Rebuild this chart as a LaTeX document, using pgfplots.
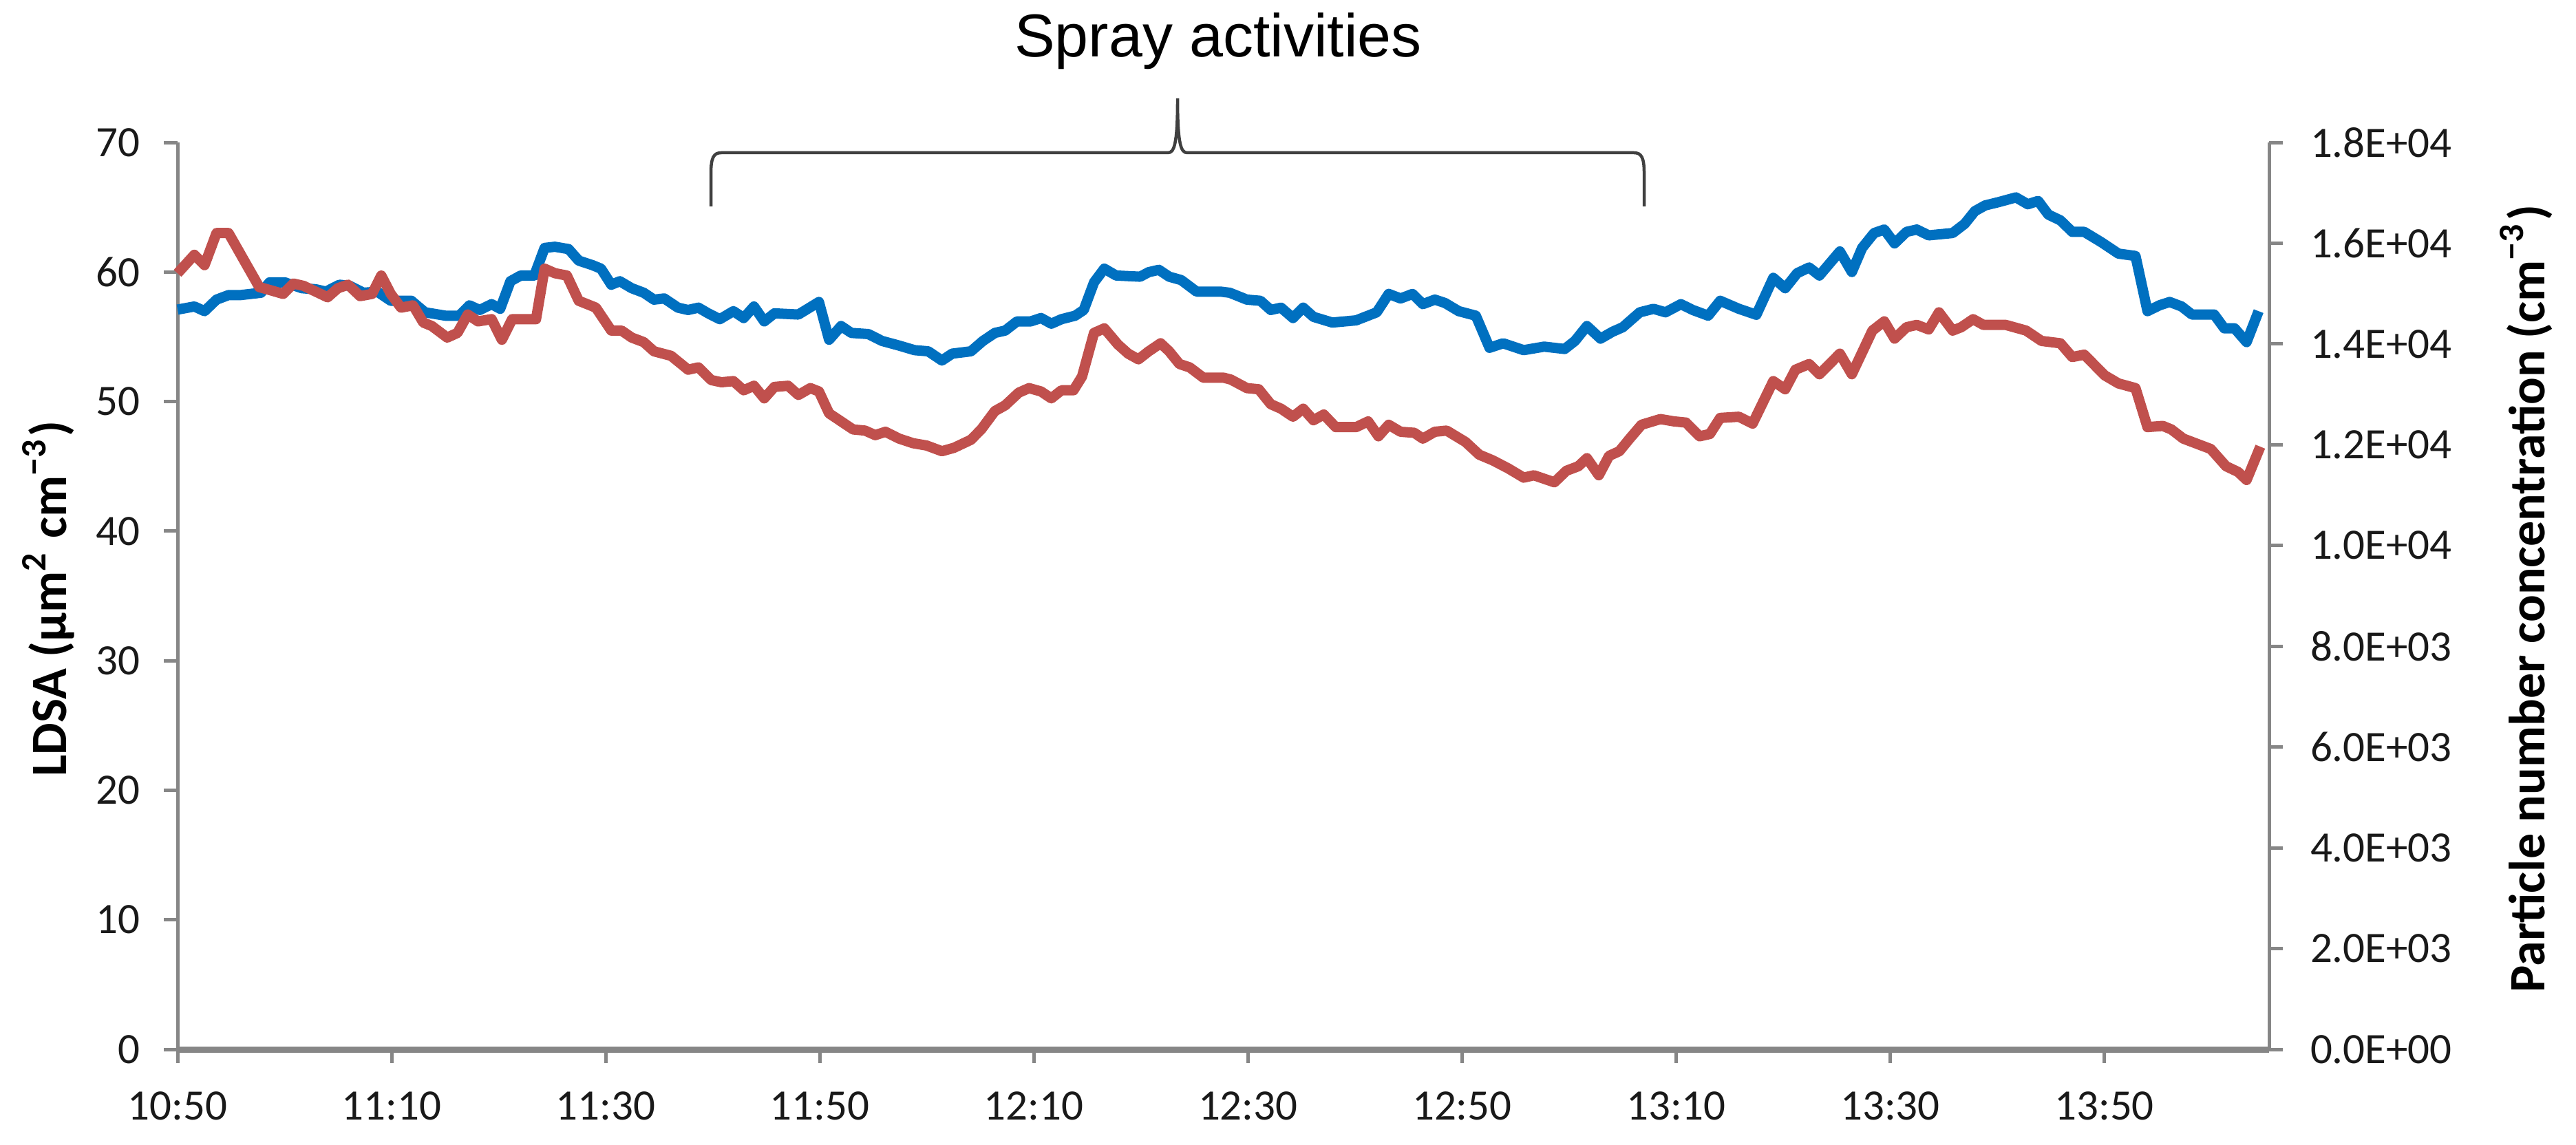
\documentclass[border=0pt]{standalone}
\usepackage{pgfplots}
\pgfplotsset{compat=1.18}
\usepackage{pgfplotstable}
\usepackage{fontspec}
\setmainfont{Carlito}
\newfontfamily\arialfont{Liberation Sans}
\definecolor{lblue}{HTML}{0070C0}
\definecolor{lred}{HTML}{C0504D}
\definecolor{axgray}{HTML}{868686}

\pgfplotstableread{
t v
0 57.1
1.57 57.34
2.52 56.98
3.64 57.87
4.76 58.22
5.88 58.22
7.79 58.40
8.59 59.20
10.03 59.20
11.62 58.75
12.90 58.67
13.86 58.49
15.13 59.02
16.09 58.93
17.37 58.40
18.65 58.49
19.92 57.78
21.84 57.78
23.12 56.89
25.03 56.63
26.31 56.63
27.27 57.43
28.23 57.07
29.34 57.52
30.14 57.16
31.10 59.29
32.06 59.73
33.33 59.73
34.29 61.86
35.25 61.95
36.53 61.77
37.48 60.88
38.76 60.53
39.56 60.26
40.52 59.02
41.32 59.29
42.43 58.75
43.55 58.40
44.51 57.87
45.47 57.96
46.75 57.25
47.70 57.07
48.66 57.25
49.60 56.80
50.66 56.36
51.93 56.98
52.89 56.45
53.85 57.34
54.81 56.19
55.76 56.81
58.00 56.72
59.92 57.69
60.87 54.77
61.99 55.83
62.95 55.30
64.54 55.21
65.82 54.68
67.42 54.32
68.85 53.97
70.13 53.88
71.41 53.17
72.37 53.70
74.12 53.88
75.24 54.68
76.36 55.30
77.32 55.48
78.43 56.19
79.71 56.19
80.67 56.45
81.63 56.01
82.58 56.36
83.86 56.63
84.66 57.07
85.62 59.20
86.58 60.26
87.69 59.73
89.93 59.64
90.73 59.99
91.68 60.17
92.64 59.64
93.76 59.38
95.20 58.49
97.43 58.49
98.30 58.40
99.90 57.87
101.17 57.78
102.13 57.07
103.09 57.25
104.21 56.45
105.16 57.25
106.12 56.54
107.88 56.10
110.11 56.27
112.03 56.89
113.15 58.31
114.26 57.96
115.38 58.31
116.34 57.52
117.46 57.87
118.41 57.61
119.69 56.98
121.29 56.63
122.57 54.15
123.84 54.50
125.76 53.97
127.67 54.24
129.59 54.06
130.55 54.68
131.67 55.83
132.94 54.86
134.06 55.39
135.02 55.74
136.61 56.89
137.89 57.16
139.01 56.89
140.45 57.52
141.56 57.07
143.00 56.63
144.12 57.78
145.87 57.16
147.50 56.70
149.08 59.55
150.19 58.75
151.31 59.91
152.43 60.35
153.39 59.73
155.30 61.59
156.42 60.00
157.38 61.86
158.50 63.01
159.45 63.28
160.41 62.21
161.53 63.10
162.49 63.28
163.60 62.83
165.84 63.01
166.96 63.72
167.91 64.70
168.87 65.14
170.15 65.40
171.75 65.76
172.86 65.23
173.82 65.49
174.78 64.43
175.90 63.99
177.01 63.10
178.13 63.10
179.73 62.30
181.33 61.42
182.92 61.24
184.04 56.98
185.16 57.43
186.11 57.69
187.23 57.34
188.19 56.72
190.27 56.72
191.22 55.65
192.18 55.65
193.30 54.59
194.42 56.98
}\bluedata

\pgfplotstableread{
t v
0 59.9
1.57 61.33
2.52 60.53
3.64 63.01
4.76 63.01
7.63 58.84
8.75 58.58
9.87 58.31
10.82 59.11
11.78 58.93
12.90 58.49
14.02 58.05
14.98 58.75
15.93 59.02
17.05 58.14
18.17 58.31
19.03 59.73
19.92 58.31
20.88 57.25
22.00 57.43
22.96 56.10
23.76 55.83
25.19 54.94
26.15 55.30
27.11 56.72
28.07 56.19
29.34 56.36
30.30 54.77
31.26 56.36
33.49 56.36
34.29 60.26
35.25 59.91
36.37 59.73
37.48 57.78
39.08 57.25
40.52 55.48
41.48 55.48
42.43 54.94
43.55 54.59
44.51 53.88
46.11 53.53
47.70 52.46
48.66 52.64
49.86 51.66
50.82 51.49
51.93 51.58
52.89 50.87
53.85 51.22
54.81 50.25
55.76 51.13
57.04 51.22
58.00 50.51
59.12 51.04
59.92 50.78
60.87 49.09
61.99 48.47
63.11 47.85
64.23 47.76
65.18 47.41
66.14 47.67
67.42 47.14
68.70 46.79
69.97 46.61
71.41 46.17
72.53 46.43
74.12 47.05
75.08 47.85
76.36 49.27
77.32 49.71
78.59 50.69
79.55 51.04
80.67 50.78
81.63 50.25
82.58 50.87
83.70 50.87
84.50 51.93
85.62 55.30
86.58 55.65
87.85 54.41
88.81 53.70
89.77 53.26
90.73 53.88
91.84 54.50
92.64 53.88
93.60 52.90
94.56 52.64
95.84 51.84
97.75 51.84
98.40 51.70
99.90 51.04
101.01 50.95
102.13 49.80
103.09 49.45
104.21 48.83
105.16 49.45
106.12 48.56
107.08 49.00
108.20 48.03
110.11 48.03
111.23 48.47
112.19 47.32
113.15 48.21
114.26 47.67
115.54 47.59
116.34 47.14
117.46 47.67
118.57 47.76
120.33 46.88
121.61 45.90
122.88 45.46
124.32 44.84
125.76 44.13
126.72 44.31
128.63 43.77
129.75 44.66
130.87 45.01
131.67 45.63
132.78 44.31
133.74 45.81
134.70 46.17
135.66 47.14
136.77 48.21
138.53 48.65
139.81 48.47
140.92 48.38
142.20 47.32
143.16 47.50
144.12 48.74
145.87 48.83
147.15 48.30
149.08 51.58
150.19 50.95
151.15 52.46
152.43 52.90
153.39 52.11
155.30 53.70
156.42 52.11
158.34 55.48
159.45 56.19
160.41 54.86
161.53 55.74
162.49 55.92
163.60 55.57
164.56 56.89
165.84 55.48
166.64 55.74
167.75 56.36
168.71 55.92
170.79 55.92
172.70 55.48
174.14 54.68
175.90 54.50
177.01 53.44
178.13 53.62
180.05 52.02
181.33 51.40
182.92 51.04
184.04 48.03
185.48 48.12
186.27 47.85
187.39 47.14
189.95 46.34
191.38 45.01
192.50 44.57
193.30 43.95
194.58 46.52
}\reddata

\begin{document}
\begin{tikzpicture}
\useasboundingbox (-25.8pt,-13.8pt) rectangle (348.5pt,152.5pt);
\begin{axis}[
  at={(0pt,0pt)}, anchor=south west,
  scale only axis, width=303.9pt, height=131.8pt,
  xmin=0, xmax=195.4, ymin=0, ymax=70,
  axis x line*=bottom, axis y line*=left,
  x axis line style={draw=axgray, line width=0.9pt},
  y axis line style={draw=axgray, line width=0.5pt},
  xtick={0,20,...,180},
  xticklabels={10:50,11:10,11:30,11:50,12:10,12:30,12:50,13:10,13:30,13:50},
  ytick={0,10,...,70},
  yticklabels={0,10,20,30,40,50,60,70},
  tick align=outside,
  major tick length=2pt,
  tick style={draw=axgray, line width=0.5pt},
  ticklabel style={font=\fontsize{6.3}{7}\selectfont, inner sep=0pt, text=black!90},
  xticklabel style={anchor=north, yshift=-4.0pt},
  yticklabel style={anchor=east, xshift=-3.3pt},
  clip=false,
]
\addplot[lblue, line width=1.5pt, line join=round] table[x=t,y=v] {\bluedata};
\addplot[lred, line width=1.5pt, line join=round] table[x=t,y=v] {\reddata};
\end{axis}
\begin{axis}[
  at={(0pt,0pt)}, anchor=south west,
  scale only axis, width=303.9pt, height=131.8pt,
  xmin=0, xmax=195.4, ymin=0, ymax=18000,
  axis x line=none, axis y line*=right,
  y axis line style={draw=axgray, line width=0.5pt},
  ytick={0,2000,...,18000},
  yticklabels={0.0E+00,2.0E+03,4.0E+03,6.0E+03,8.0E+03,1.0E+04,1.2E+04,1.4E+04,1.6E+04,1.8E+04},
  scaled y ticks=false,
  tick align=outside,
  major tick length=2pt,
  tick style={draw=axgray, line width=0.5pt},
  ticklabel style={font=\fontsize{6.3}{7}\selectfont, inner sep=0pt, text=black!90},
  yticklabel style={anchor=west, xshift=3.8pt},
]
\addplot[draw=none] coordinates {(0,0)};
\end{axis}
\node[rotate=90, anchor=base, font=\bfseries\fontsize{7.4}{8}\selectfont] at (-16.1pt,65.5pt) {LDSA (µm\textsuperscript{2} cm\textsuperscript{−3})};
\node[rotate=90, anchor=base, font=\bfseries\fontsize{7.4}{8}\selectfont] at (343.9pt,65.5pt) {Particle number concentration (cm\textsuperscript{−3})};
\node[anchor=base, font=\arialfont\fontsize{8.8}{10}\selectfont, inner sep=0pt] at (151.2pt,144.2pt) {Spray activities};
\draw[black!75, line width=0.45pt] (77.5pt,122.5pt) -- (77.5pt,127.3pt) .. controls (77.5pt,129.6pt) and (77.9pt,130.3pt) .. (79pt,130.3pt) -- (143.9pt,130.3pt) .. controls (144.8pt,130.3pt) and (145.3pt,131.5pt) .. (145.3pt,138.2pt) .. controls (145.3pt,131.5pt) and (145.8pt,130.3pt) .. (146.7pt,130.3pt) -- (211.6pt,130.3pt) .. controls (212.7pt,130.3pt) and (213.1pt,129.6pt) .. (213.1pt,127.3pt) -- (213.1pt,122.5pt);
\end{tikzpicture}
\end{document}
